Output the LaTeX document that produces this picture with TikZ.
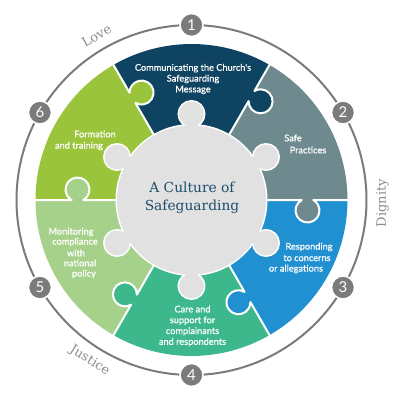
\documentclass[tikz,border=0pt]{standalone}
\usepackage{fontspec}
\setmainfont{Lato}
\newfontfamily\pfont{Lato}[FakeBold=0.9]
\newfontfamily\serifF{DejaVu Serif}
\definecolor{cnavy}{HTML}{0E4461}
\definecolor{cslate}{HTML}{6E8A8F}
\definecolor{cblue}{HTML}{2190D1}
\definecolor{cteal}{HTML}{3DB88C}
\definecolor{clgreen}{HTML}{A6D18A}
\definecolor{clime}{HTML}{9AC43C}
\definecolor{ccenter}{HTML}{E1E1E1}
\definecolor{cring}{HTML}{7B7B7B}
\definecolor{clabel}{HTML}{8C8C8C}
\definecolor{ctitle}{HTML}{1E4E6E}
\newcommand\pzknob[3]{\fill[#3, rotate=#1] (#2pt,-10.5pt) circle[radius=12pt];}
\newcommand\pzbound[2]{\draw[white, line width=2pt, line join=round, rotate=#1] (0,0) -- ({#2-5.81},0) arc[start angle=118.96, end angle=421.04, radius=12pt] -- (158,0);}
\tikzset{
  badge/.style={circle, fill=cring, draw=white, line width=1.5pt, minimum size=23pt, inner sep=0pt, text=white, font=\fontsize{15}{15}\selectfont},
  ringlbl/.style={text=clabel, font=\serifF\fontsize{13}{14}\selectfont, inner sep=0pt},
  ptxt/.style={text=white, font=\pfont\fontsize{9.2}{10.8}\selectfont, inner sep=0pt, align=center},
}
\begin{document}
\begin{tikzpicture}[x=1pt,y=1pt]
\useasboundingbox (-191.5,-200) rectangle (208.5,200);
% outer ring
\draw[cring, line width=2pt] (0,0) circle[radius=175pt];
% sectors
\fill[cnavy] (0,0) -- (60:156pt) arc[start angle=60, end angle=120, radius=156pt] -- cycle;
\fill[cslate] (0,0) -- (0:156pt) arc[start angle=0, end angle=60, radius=156pt] -- cycle;
\fill[cblue] (0,0) -- (-60:156pt) arc[start angle=-60, end angle=0, radius=156pt] -- cycle;
\fill[cteal] (0,0) -- (-120:156pt) arc[start angle=-120, end angle=-60, radius=156pt] -- cycle;
\fill[clgreen] (0,0) -- (-180:156pt) arc[start angle=-180, end angle=-120, radius=156pt] -- cycle;
\fill[clime] (0,0) -- (120:156pt) arc[start angle=120, end angle=180, radius=156pt] -- cycle;
% puzzle knobs
\pzknob{60}{120}{cnavy}
\pzknob{0}{116}{cslate}
\pzknob{-60}{112}{cblue}
\pzknob{-120}{115}{cteal}
\pzknob{180}{114}{clgreen}
\pzknob{120}{118}{clime}
% white boundaries
\pzbound{60}{120}
\pzbound{0}{116}
\pzbound{-60}{112}
\pzbound{-120}{115}
\pzbound{180}{114}
\pzbound{120}{118}
% centre shape: white outline then grey fill
\foreach \a in {90,30,-30,-90,-150,150}{
  \filldraw[white, line width=3pt] (\a:86pt) circle[radius=12.5pt];
  \filldraw[white, line width=3pt, rotate=\a] (68,-6.5) rectangle (80,6.5);
}
\filldraw[white, line width=3pt] (0,0) circle[radius=74.5pt];
\fill[ccenter] (0,0) circle[radius=74.5pt];
\foreach \a in {90,30,-30,-90,-150,150}{
  \fill[ccenter] (\a:86pt) circle[radius=12.5pt];
  \fill[ccenter, rotate=\a] (68,-6.5) rectangle (80,6.5);
}
\node[text=ctitle, font=\serifF\fontsize{13.8}{18}\selectfont, align=center, inner sep=0pt] (title) at (0.5,2) {A Culture of\\Safeguarding};
% piece texts
\node[ptxt] (t1) at (1.5,121) {Communicating the Church's\\Safeguarding\\Message};
\node[ptxt] (t2a) at (101.5,62) {Safe};
\node[ptxt] (t2b) at (116.5,50) {Practices};
\node[ptxt] (t3a) at (117.5,-47) {Responding};
\node[ptxt] (t3b) at (115.5,-58) {to concerns};
\node[ptxt] (t3c) at (104.5,-69) {or allegations};
\node[ptxt] (t4) at (1,-126) {Care and\\support for\\complainants\\and respondents};
\node[ptxt] (t5a) at (-120.5,-32) {Monitoring};
\node[ptxt] (t5b) at (-116.5,-42) {compliance};
\node[ptxt] (t5c) at (-115.5,-53) {with};
\node[ptxt] (t5d) at (-111.5,-63) {national};
\node[ptxt] (t5e) at (-107.5,-74) {policy};
\node[ptxt] (t6a) at (-96.5,66) {Formation};
\node[ptxt] (t6b) at (-112.5,54) {and training};
% badges
\foreach \a/\n in {90/1,30/2,-30/3,-90/4,-150/5,150/6}{
  \node[badge] (b\n) at (\a:175pt) {\n};
}
% ring labels
\node[ringlbl, rotate=30] (love) at (120:190pt) {Love};
\node[ringlbl, rotate=90] (dignity) at (-0.9:191pt) {Dignity};
\node[ringlbl, rotate=-32.4] (justice) at (237.6:190pt) {Justice};
\end{tikzpicture}
\end{document}
